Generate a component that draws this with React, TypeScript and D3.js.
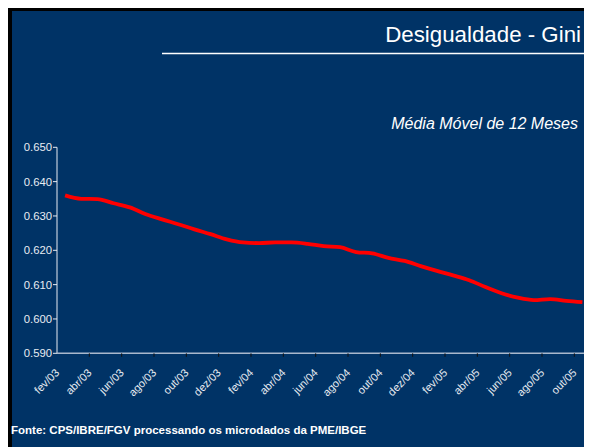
import React from "react";
import * as d3 from "d3";

const categories: string[] = [
  "fev/03", "mar/03", "abr/03", "mai/03", "jun/03", "jul/03", "ago/03", "set/03", "out/03", "nov/03", "dez/03",
  "jan/04", "fev/04", "mar/04", "abr/04", "mai/04", "jun/04", "jul/04", "ago/04", "set/04", "out/04", "nov/04", "dez/04",
  "jan/05", "fev/05", "mar/05", "abr/05", "mai/05", "jun/05", "jul/05", "ago/05", "set/05", "out/05",
];

const giniValues: number[] = [
  0.636, 0.635, 0.6349, 0.6337, 0.6325, 0.6305, 0.629, 0.6276, 0.6261, 0.6247, 0.6232,
  0.6223, 0.6221, 0.6223, 0.6223, 0.6219, 0.6212, 0.6209, 0.6195, 0.6191, 0.6178, 0.6169,
  0.6154, 0.614, 0.6127, 0.6113, 0.6093, 0.6075, 0.6062, 0.6055, 0.6058, 0.6053, 0.6049,
];

const yTicks: number[] = [0.59, 0.6, 0.61, 0.62, 0.63, 0.64, 0.65];

const titleText = "Desigualdade - Gini";
const subtitleText = "Média Móvel de 12 Meses";
const sourceText = "Fonte: CPS/IBRE/FGV processando os microdados da PME/IBGE";

const FONT = "Arial, 'Liberation Sans', sans-serif";
const BG = "#003366";

export default function App() {
  const W = 584;
  const H = 439;
  const left = 57;
  const right = 590.5;
  const top = 147.3;
  const bottom = 353.3;

  const x = d3.scaleBand<string>().domain(categories).range([left, right]).paddingInner(0).paddingOuter(0);
  const y = d3.scaleLinear().domain([0.59, 0.65]).range([bottom, top]);
  const fmt = d3.format(".3f");

  const line = d3
    .line<number>()
    .x((_, i) => (x(categories[i]) as number) + x.bandwidth() / 2)
    .y((d) => y(d))
    .curve(d3.curveMonotoneX);

  const labeled = categories.filter((_, i) => i % 2 === 0);

  return (
    <svg width={W} height={H} style={{ display: "block" }}>
      <g transform="translate(-8,-8)">
        <rect x={8} y={7} width={600} height={460} fill="#000" />
        <rect x={12} y={11} width={600} height={460} fill={BG} />
        <text x={581} y={42} textAnchor="end" fill="#fff" fontFamily={FONT} fontSize={22.3}>
          {titleText}
        </text>
        <line x1={162} x2={592} y1={53.5} y2={53.5} stroke="#fff" strokeWidth={1.3} />
        <text x={578} y={129} textAnchor="end" fill="#fff" fontFamily={FONT} fontSize={16} fontStyle="italic">
          {subtitleText}
        </text>

        {/* y axis */}
        <line x1={left} x2={left} y1={top} y2={bottom} stroke="#e8ecf2" strokeWidth={1} />
        {yTicks.map((t) => (
          <g key={t}>
            <line x1={left - 4} x2={left} y1={y(t)} y2={y(t)} stroke="#e8ecf2" strokeWidth={1} />
            <text
              x={left - 5}
              y={y(t)}
              dy="0.35em"
              textAnchor="end"
              fill="#e8ecf2"
              fontFamily={FONT}
              fontSize={11.3}
            >
              {fmt(t)}
            </text>
          </g>
        ))}

        {/* x axis */}
        <line x1={left} x2={592} y1={bottom} y2={bottom} stroke="#a9b8cc" strokeWidth={1.5} />
        {labeled.map((c) => {
          const tx = x(c) as number;
          return (
            <g key={c}>
              {tx > left + 1 && (
                <line x1={tx} x2={tx} y1={bottom} y2={bottom + 3.5} stroke="#111" strokeWidth={1} />
              )}
              <text
                transform={`translate(${tx + 3},${bottom + 20}) rotate(-45)`}
                textAnchor="end"
                fill="#e8ecf2"
                fontFamily={FONT}
                fontSize={11}
              >
                {c}
              </text>
            </g>
          );
        })}

        <path d={line(giniValues) || ""} fill="none" stroke="#ff0000" strokeWidth={3.8} strokeLinejoin="round" />

        <text x={11} y={434} fill="#fff" fontFamily={FONT} fontSize={11.5} fontWeight="bold">
          {sourceText}
        </text>
      </g>
    </svg>
  );
}
